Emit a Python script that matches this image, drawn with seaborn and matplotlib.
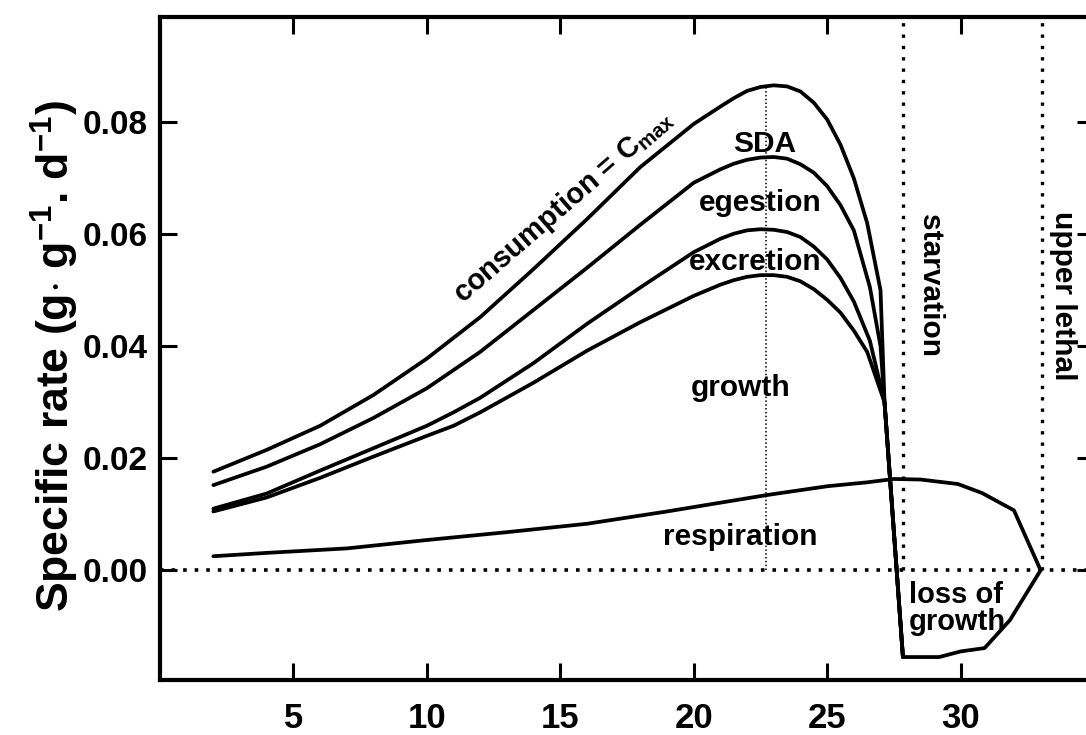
import numpy as np
import pandas as pd
import matplotlib
matplotlib.use("Agg")
import matplotlib.pyplot as plt
import seaborn as sns

sns.set_style("ticks")
plt.rcParams['font.family'] = ['Liberation Sans', 'DejaVu Sans']
plt.rcParams['font.weight'] = 'bold'
plt.rcParams['mathtext.fontset'] = 'custom'
plt.rcParams['mathtext.rm'] = 'Liberation Sans:bold'
plt.rcParams['mathtext.bf'] = 'Liberation Sans:bold'
plt.rcParams['mathtext.it'] = 'Liberation Sans:bold'
for k in ['text.color', 'axes.labelcolor', 'xtick.color', 'ytick.color', 'axes.edgecolor']:
    plt.rcParams[k] = 'black'

# ---- data (temperature in °C, specific rate in g g-1 d-1) ----
cons_x = [2, 4, 6, 8, 10, 12, 14, 16, 18, 20, 21, 21.5, 22, 22.5, 23, 23.5, 24, 24.5, 25,
          25.5, 26, 26.5, 27.0, 27.15, 27.84]
cons_y = [0.0176, 0.0215, 0.0258, 0.0313, 0.0378, 0.0452, 0.0538, 0.0627, 0.0720, 0.0797,
          0.0828, 0.0843, 0.0856, 0.0863, 0.0866, 0.0864, 0.0855, 0.0835, 0.0805,
          0.0760, 0.0700, 0.0620, 0.0500, 0.0300, -0.0155]

sda_x = [2, 4, 6, 8, 10, 12, 14, 16, 18, 20, 21, 21.5, 22, 22.5, 23, 23.5, 24, 24.5, 25,
         25.5, 26, 26.6, 27.0, 27.15, 27.84]
sda_y = [0.0152, 0.0185, 0.0225, 0.0272, 0.0325, 0.0390, 0.0465, 0.0540, 0.0617, 0.0692,
         0.0716, 0.0726, 0.0733, 0.0737, 0.0738, 0.0735, 0.0725, 0.0710, 0.0686,
         0.0652, 0.0607, 0.0506, 0.0400, 0.0300, -0.0155]

ege_x = [2, 4, 6, 8, 10, 11, 12, 14, 16, 18, 20, 21, 21.5, 22, 22.5, 23, 23.5, 24, 24.5, 25,
         25.5, 26, 26.6, 27.15, 27.84]
ege_y = [0.0110, 0.0137, 0.0178, 0.0218, 0.0258, 0.0282, 0.0308, 0.0370, 0.0440, 0.0505,
         0.0568, 0.0592, 0.0601, 0.0607, 0.0609, 0.0608, 0.0604, 0.0595, 0.0578, 0.0555,
         0.0522, 0.0480, 0.0410, 0.0300, -0.0155]

exc_x = [2, 4, 6, 8, 10, 11, 12, 14, 16, 18, 20, 21, 21.5, 22, 22.5, 23, 23.5, 24, 24.5, 25,
         25.5, 26, 26.5, 27.15, 27.84, 29.2, 30.0, 30.9, 31.85, 33.0]
exc_y = [0.0105, 0.0130, 0.0165, 0.0203, 0.0240, 0.0258, 0.0282, 0.0335, 0.0392, 0.0443,
         0.0490, 0.0510, 0.0518, 0.0524, 0.0527, 0.0527, 0.0524, 0.0516, 0.0502, 0.0483,
         0.0460, 0.0428, 0.0390, 0.0300, -0.0155, -0.0155, -0.0145, -0.0139, -0.0089, 0.0]

resp_x = [2, 4, 7, 10, 13, 16, 19, 22.7, 25, 26.5, 27.5, 28.5, 29.9, 30.8, 32.0, 33.0]
resp_y = [0.0025, 0.0031, 0.0039, 0.0054, 0.0068, 0.0083, 0.0105, 0.0134, 0.0150, 0.0157,
          0.0163, 0.0162, 0.0154, 0.0138, 0.0107, 0.0]

peak_x = 22.7
peak_y = 0.0865
starvation_x = 27.84
lethal_x = 33.07

x_ticks = [5, 10, 15, 20, 25, 30]
y_ticks = [0.00, 0.02, 0.04, 0.06, 0.08]
y_tick_labels = ["0.00", "0.02", "0.04", "0.06", "0.08"]

# ---- figure ----
fig = plt.figure(figsize=(10.86, 7.35), dpi=100)
ax = fig.add_axes([160 / 1086, 1 - 680 / 735, (1094 - 160) / 1086, (680 - 17) / 735])

for xs, ys in [(cons_x, cons_y), (sda_x, sda_y), (ege_x, ege_y), (exc_x, exc_y), (resp_x, resp_y)]:
    df = pd.DataFrame({"x": xs, "y": ys})
    sns.lineplot(data=df, x="x", y="y", sort=False, estimator=None, color="black",
                 lw=2.7, ax=ax, solid_joinstyle="round")

# reference lines
ax.axhline(0, color="black", lw=2.6, ls=(0, (1, 2.2)), xmin=0, xmax=1)
ax.plot([starvation_x, starvation_x], [0, 0.0988], color="black", lw=2.4, ls=(0, (1, 2.4)))
ax.plot([lethal_x, lethal_x], [0, 0.0988], color="black", lw=2.4, ls=(0, (1, 2.4)))
ax.plot([peak_x, peak_x], [0, peak_y], color="black", lw=1.1, ls=(0, (1, 1.5)))

ax.set_xlim(0, 35)
ax.set_ylim(-0.0196, 0.0988)
ax.set_xticks(x_ticks)
ax.set_xticklabels([str(v) for v in x_ticks], fontsize=25, fontweight="bold")
ax.set_yticks(y_ticks)
ax.set_yticklabels(y_tick_labels, fontsize=24, fontweight="bold")
ax.tick_params(direction="in", length=12, width=2.2, top=True, right=True, colors="black")
ax.tick_params(axis="y", pad=9)
ax.tick_params(axis="x", pad=16)
for s in ax.spines.values():
    s.set_linewidth(3)
    s.set_color("black")
ax.set_xlabel("")
ax.set_ylabel(r"Specific rate (g$\cdot$ g$^{\mathbf{-1}}$. d$^{\mathbf{-1}}$)", fontsize=32,
              fontweight="bold", va="center", color="black")
ax.yaxis.set_label_coords((55 - 160) / 934, (680 - 356) / 663)

fs = 21.5
ax.text(15.11, 0.0650, r"consumption = C$_{\mathbf{max}}$", rotation=41, fontsize=21,
        fontweight="bold", ha="center", va="center", rotation_mode="anchor")
ax.text(22.67, 0.0762, "SDA", fontsize=fs, fontweight="bold", ha="center", va="center")
ax.text(22.49, 0.0655, "egestion", fontsize=fs, fontweight="bold", ha="center", va="center")
ax.text(22.3, 0.0550, "excretion", fontsize=fs, fontweight="bold", ha="center", va="center")
ax.text(21.74, 0.0325, "growth", fontsize=fs, fontweight="bold", ha="center", va="center")
ax.text(21.74, 0.0059, "respiration", fontsize=fs, fontweight="bold", ha="center", va="center")
ax.text(28.05, -0.0068, "loss of\ngrowth", fontsize=21, fontweight="bold", ha="left", va="center",
        linespacing=0.95)
ax.text(28.85, 0.0509, "starvation", rotation=-90, fontsize=fs, fontweight="bold",
        ha="center", va="center")
ax.text(33.83, 0.0491, "upper lethal", rotation=-90, fontsize=fs, fontweight="bold",
        ha="center", va="center")

fig.savefig("out.png", dpi=100, facecolor="white")
